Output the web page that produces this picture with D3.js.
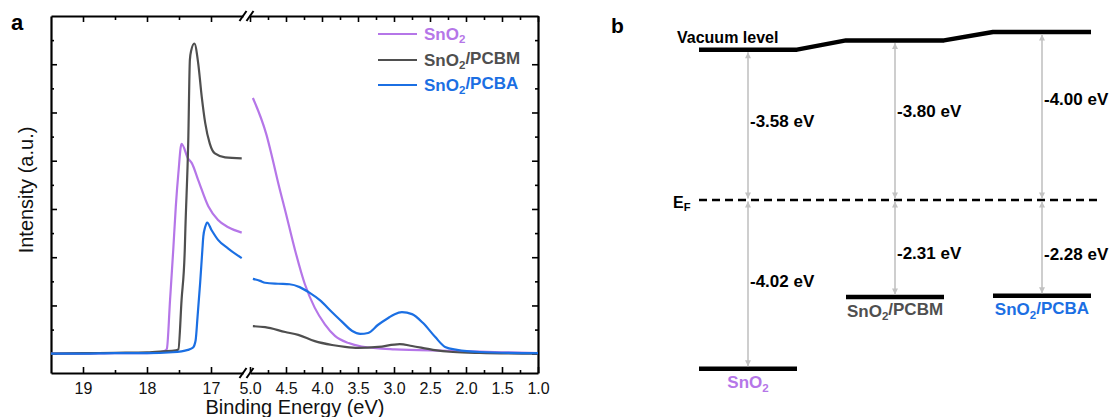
<!DOCTYPE html>
<html><head><meta charset="utf-8">
<script src="https://cdn.jsdelivr.net/npm/d3@7"></script>
<style>
body{margin:0;background:#fff}
svg{display:block}
text{font-family:Arial,"Liberation Sans",sans-serif}
</style>
</head><body>
<svg id="c" width="1112" height="417"></svg>
<script>
// ---------------- DATA ----------------
const seriesNames = ["SnO2", "SnO2/PCBM", "SnO2/PCBA"];
const seriesColors = ["#b576e8", "#4f4f4f", "#1b6fe3"];

// Secondary-electron cutoff region: [binding energy (eV), intensity (a.u.)]
const cutoffSnO2 = [[19.5,0.0],[19.0,0.0],[18.5,0.01],[18.0,0.01],[17.8,0.03],[17.72,0.06],[17.69,0.10],[17.64,1.11],[17.59,2.15],[17.55,3.05],[17.51,3.74],[17.46,4.35],[17.36,4.05],[17.30,3.95],[17.20,3.60],[17.04,3.05],[16.89,2.77],[16.73,2.62],[16.52,2.51]];
const cutoffPCBM = [[19.5,0.0],[19.0,0.01],[18.5,0.02],[18.0,0.03],[17.75,0.05],[17.55,0.07],[17.51,0.09],[17.46,1.11],[17.41,2.15],[17.40,2.6],[17.355,4.43],[17.33,6.09],[17.31,6.28],[17.26,6.43],[17.20,6.02],[17.145,5.33],[17.09,4.78],[17.02,4.36],[16.94,4.15],[16.78,4.07],[16.52,4.05]];
const cutoffPCBA = [[19.5,0.0],[19.0,0.0],[18.5,0.01],[18.0,0.01],[17.6,0.03],[17.36,0.08],[17.28,0.13],[17.24,0.28],[17.21,0.77],[17.17,1.46],[17.135,2.15],[17.12,2.43],[17.09,2.63],[17.06,2.72],[16.99,2.56],[16.89,2.36],[16.73,2.18],[16.52,1.98]];

// Valence-band region
const valenceSnO2 = [[4.96,5.30],[4.77,4.53],[4.70,4.12],[4.61,3.55],[4.50,2.90],[4.375,2.15],[4.24,1.45],[4.10,0.95],[3.96,0.61],[3.82,0.37],[3.63,0.22],[3.45,0.15],[2.99,0.09],[2.26,0.06],[1.5,0.03],[1.0,0.01]];
const valencePCBM = [[4.96,0.57],[4.79,0.55],[4.51,0.45],[4.33,0.39],[4.10,0.26],[3.86,0.18],[3.68,0.14],[3.50,0.12],[3.22,0.14],[2.92,0.20],[2.75,0.16],[2.46,0.08],[2.18,0.035],[1.81,0.015],[1.0,0.0]];
const valencePCBA = [[4.96,1.55],[4.86,1.51],[4.79,1.47],[4.61,1.45],[4.45,1.44],[4.31,1.38],[4.17,1.26],[4.03,1.11],[3.86,0.86],[3.72,0.66],[3.58,0.47],[3.47,0.41],[3.36,0.43],[3.22,0.60],[3.08,0.74],[2.99,0.82],[2.89,0.86],[2.75,0.82],[2.60,0.64],[2.43,0.35],[2.29,0.14],[2.125,0.08],[1.81,0.035],[1.0,0.01]];

// Axis ticks
const xMajorLeft = [19, 18, 17];
const xMinorLeft = [18.5, 17.5];
const xMajorRight = [5.0, 4.5, 4.0, 3.5, 3.0, 2.5, 2.0, 1.5, 1.0];
const xMinorRight = [4.75, 4.25, 3.75, 3.25, 2.75, 2.25, 1.75, 1.25];
const yMajor = [0, 1, 2, 3, 4, 5, 6];
const yMinor = [0.5, 1.5, 2.5, 3.5, 4.5, 5.5, 6.5];

// Energy-level diagram
const workFunction = [-3.58, -3.80, -4.00];   // vacuum level to E_F
const lowerLevel = [-4.02, -2.31, -2.28];     // E_F to level
const upperLabelAt = [1.74, 1.98, 2.26];      // label baseline, eV
const lowerLabelAt = [-2.07, -1.40, -1.43];

// ---------------- DRAW ----------------
const svg = d3.select("#c");
const xL = d3.scaleLinear().domain([19.5, 16.5]).range([51, 243]);
const xR = d3.scaleLinear().domain([5.0, 1.0]).range([250, 538]);
const y = d3.scaleLinear().domain([-0.4, 7.0]).range([373, 16]);
const fmt = v => v.toFixed(2);

function styleAx(g, showDomain) {
  g.select(".domain").attr("stroke", showDomain ? "#000" : "none").attr("stroke-width", 2.2);
  g.selectAll(".tick line").attr("stroke", "#000").attr("stroke-width", 1.6);
  g.selectAll(".tick text").attr("font-size", 16).attr("fill", "#111")
    .attr("font-family", "Arial, 'Liberation Sans', sans-serif");
}
function addAxis(axis, tx, ty, showDomain) {
  const g = svg.append("g").attr("transform", `translate(${tx},${ty})`).call(axis);
  styleAx(g, showDomain);
  return g;
}
// bottom
addAxis(d3.axisBottom(xL).tickValues(xMajorLeft).tickSize(-6).tickSizeOuter(0).tickPadding(10).tickFormat(d3.format("d")), 0, 373, true);
addAxis(d3.axisBottom(xL).tickValues(xMinorLeft).tickSize(-3).tickSizeOuter(0).tickFormat(""), 0, 373, false);
addAxis(d3.axisBottom(xR).tickValues(xMajorRight).tickSize(-6).tickSizeOuter(0).tickPadding(10).tickFormat(d => d.toFixed(1)), 0, 373, true);
addAxis(d3.axisBottom(xR).tickValues(xMinorRight).tickSize(-3).tickSizeOuter(0).tickFormat(""), 0, 373, false);
// top
addAxis(d3.axisTop(xL).tickValues(xMajorLeft).tickSize(-6).tickSizeOuter(0).tickFormat(""), 0, 16, true);
addAxis(d3.axisTop(xL).tickValues(xMinorLeft).tickSize(-4).tickSizeOuter(0).tickFormat(""), 0, 16, false);
addAxis(d3.axisTop(xR).tickValues(xMajorRight).tickSize(-6).tickSizeOuter(0).tickFormat(""), 0, 16, true);
addAxis(d3.axisTop(xR).tickValues(xMinorRight).tickSize(-4).tickSizeOuter(0).tickFormat(""), 0, 16, false);
// left / right
addAxis(d3.axisLeft(y).tickValues(yMajor).tickSize(-6).tickSizeOuter(0).tickFormat(""), 51, 0, true);
addAxis(d3.axisLeft(y).tickValues(yMinor).tickSize(-3).tickSizeOuter(0).tickFormat(""), 51, 0, false);
addAxis(d3.axisRight(y).tickValues(yMajor).tickSize(-6).tickSizeOuter(0).tickFormat(""), 538, 0, true);
addAxis(d3.axisRight(y).tickValues(yMinor).tickSize(-3).tickSizeOuter(0).tickFormat(""), 538, 0, false);

// axis break marks
const breakX = (xL.range()[1] + xR.range()[0]) / 2;
[y.range()[0], y.range()[1]].forEach(yy => {
  [-6, 1].forEach(off => {
    svg.append("line")
      .attr("x1", breakX + off - 1).attr("y1", yy + 5)
      .attr("x2", breakX + off + 6).attr("y2", yy - 5)
      .attr("stroke", "#000").attr("stroke-width", 2);
  });
});

// curves
const lineL = d3.line().x(d => xL(d[0])).y(d => y(d[1])).curve(d3.curveMonotoneX);
const lineR = d3.line().x(d => xR(d[0])).y(d => y(d[1])).curve(d3.curveMonotoneX);
const cutoffs = [cutoffSnO2, cutoffPCBM, cutoffPCBA];
const valences = [valenceSnO2, valencePCBM, valencePCBA];
cutoffs.forEach((d, i) => {
  svg.append("path").attr("d", lineL(d)).attr("fill", "none")
    .attr("stroke", seriesColors[i]).attr("stroke-width", 2.2);
});
valences.forEach((d, i) => {
  svg.append("path").attr("d", lineR(d)).attr("fill", "none")
    .attr("stroke", seriesColors[i]).attr("stroke-width", 2.2);
});

// subscript helper
function subText(sel, name) {
  const idx = name.indexOf("2");
  sel.append("tspan").text(name.slice(0, idx));
  sel.append("tspan").text("2").attr("font-size", "0.68em").attr("dy", "0.3em");
  if (idx + 1 < name.length) sel.append("tspan").text(name.slice(idx + 1)).attr("dy", "-0.3em");
}

// legend
const legY = [34, 60, 85];
seriesNames.forEach((n, i) => {
  svg.append("line").attr("x1", 378).attr("x2", 417).attr("y1", legY[i]).attr("y2", legY[i])
    .attr("stroke", seriesColors[i]).attr("stroke-width", 2.2);
  const t = svg.append("text").attr("x", 424).attr("y", legY[i] + 6)
    .attr("font-size", 17).attr("font-weight", "bold").attr("fill", seriesColors[i]);
  subText(t, n);
});

// axis titles
svg.append("text").attr("x", 295).attr("y", 414).attr("text-anchor", "middle")
  .attr("font-size", 20).attr("fill", "#111").text("Binding Energy (eV)");
svg.append("text").attr("transform", "translate(33,190) rotate(-90)").attr("text-anchor", "middle")
  .attr("font-size", 20).attr("fill", "#111").text("Intensity (a.u.)");
svg.append("text").attr("x", 11).attr("y", 30).attr("font-size", 22).attr("font-weight", "bold").text("a");
svg.append("text").attr("x", 611).attr("y", 33).attr("font-size", 21).attr("font-weight", "bold").text("b");

// ---------------- Panel b ----------------
const band = d3.scaleBand().domain(seriesNames).range([699, 1091]).paddingInner(1/3).paddingOuter(0);
const bw = band.bandwidth();
const yE = d3.scaleLinear().domain([-5, 5]).range([410, -10]);
const cx = n => band(n) + bw / 2;

// vacuum level
const vacPts = [];
seriesNames.forEach((n, i) => {
  vacPts.push([band(n), yE(-workFunction[i])]);
  vacPts.push([band(n) + bw, yE(-workFunction[i])]);
});
svg.append("path").attr("d", d3.line()(vacPts)).attr("fill", "none")
  .attr("stroke", "#000").attr("stroke-width", 4.5).attr("stroke-linejoin", "round");
svg.append("text").attr("x", band(seriesNames[0]) - 22).attr("y", yE(-workFunction[0]) - 7)
  .attr("font-size", 16).attr("font-weight", "bold").text("Vacuum level");

// Fermi level
svg.append("line").attr("x1", band(seriesNames[0])).attr("x2", band(seriesNames[2]) + bw + 6)
  .attr("y1", yE(0)).attr("y2", yE(0))
  .attr("stroke", "#000").attr("stroke-width", 2.5).attr("stroke-dasharray", "8,5");
const ef = svg.append("text").attr("x", band(seriesNames[0]) - 26).attr("y", yE(0) + 8)
  .attr("font-size", 16).attr("font-weight", "bold");
ef.append("tspan").text("E");
ef.append("tspan").text("F").attr("font-size", "0.7em").attr("dy", "0.3em");

// arrow marker
const defs = svg.append("defs");
defs.append("marker").attr("id", "ah").attr("viewBox", "0 0 10 10").attr("refX", 10).attr("refY", 5)
  .attr("markerUnits", "userSpaceOnUse").attr("markerWidth", 9).attr("markerHeight", 6)
  .attr("orient", "auto-start-reverse")
  .append("path").attr("d", "M0,0L10,5L0,10z").attr("fill", "#c2c2c2");

seriesNames.forEach((n, i) => {
  const x = cx(n);
  // lower level bar
  svg.append("line").attr("x1", band(n)).attr("x2", band(n) + bw)
    .attr("y1", yE(lowerLevel[i])).attr("y2", yE(lowerLevel[i]))
    .attr("stroke", "#000").attr("stroke-width", 4.5);
  // arrows
  svg.append("line").attr("x1", x).attr("x2", x)
    .attr("y1", yE(-workFunction[i]) + 2.5).attr("y2", yE(0) - 1.5)
    .attr("stroke", "#c2c2c2").attr("stroke-width", 1.6)
    .attr("marker-start", "url(#ah)").attr("marker-end", "url(#ah)");
  svg.append("line").attr("x1", x).attr("x2", x)
    .attr("y1", yE(0) + 1.5).attr("y2", yE(lowerLevel[i]) - 2.5)
    .attr("stroke", "#c2c2c2").attr("stroke-width", 1.6)
    .attr("marker-start", "url(#ah)").attr("marker-end", "url(#ah)");
  // value labels
  svg.append("text").attr("x", x + 2).attr("y", yE(upperLabelAt[i]))
    .attr("font-size", 17).attr("font-weight", "bold").text(fmt(workFunction[i]) + " eV");
  svg.append("text").attr("x", x + 2).attr("y", yE(lowerLabelAt[i]))
    .attr("font-size", 17).attr("font-weight", "bold").text(fmt(lowerLevel[i]) + " eV");
  // category label
  const t = svg.append("text").attr("x", x).attr("y", yE(lowerLevel[i]) + 19.5)
    .attr("text-anchor", "middle").attr("font-size", 17).attr("font-weight", "bold")
    .attr("fill", seriesColors[i]);
  subText(t, n);
});
</script>
</body></html>
